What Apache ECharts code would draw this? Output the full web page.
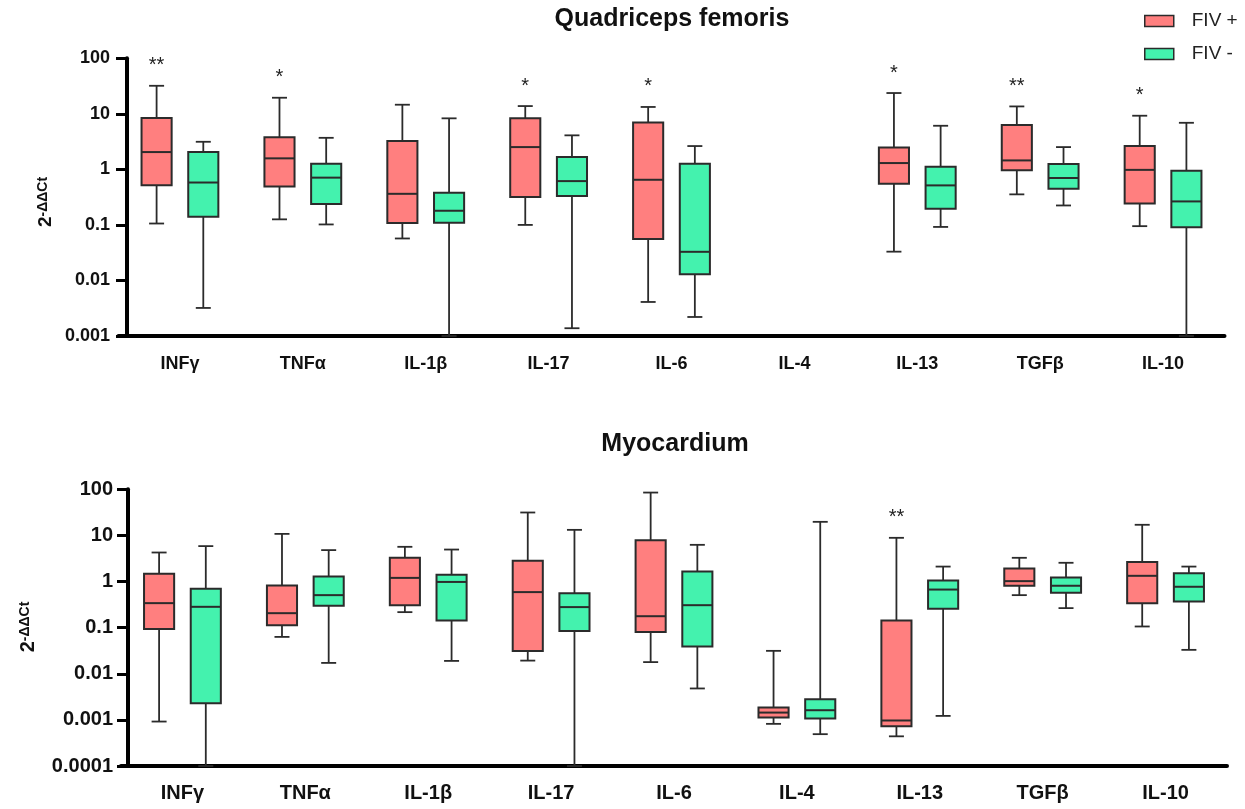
<!DOCTYPE html>
<html>
<head>
<meta charset="utf-8">
<script src="https://cdn.jsdelivr.net/npm/echarts@6/dist/echarts.min.js"></script>
<style>
html, body { margin: 0; padding: 0; background: #fff; }
#chart { width: 1245px; height: 809px; }
</style>
</head>
<body>
<div id="chart"></div>
<script>
// categories on both panels
const cytokines = ['INFγ', 'TNFα', 'IL-1β', 'IL-17', 'IL-6', 'IL-4', 'IL-13', 'TGFβ', 'IL-10']

// [min, Q1, median, Q3, max] (null = no data)
const quadFivPos = [
    [0.106, 0.52, 2.05, 8.4, 32],
    [0.126, 0.49, 1.58, 3.8, 19.5],
    [0.057, 0.108, 0.363, 3.23, 14.6],
    [0.1, 0.317, 2.52, 8.3, 13.8],
    [0.0041, 0.056, 0.65, 7.0, 13.3],
    null,
    [0.033, 0.55, 1.3, 2.49, 23.7],
    [0.355, 0.96, 1.45, 6.3, 13.6],
    [0.095, 0.244, 0.98, 2.63, 9.25],
]
const quadFivNeg = [
    [0.0032, 0.14, 0.58, 2.05, 3.14],
    [0.102, 0.237, 0.71, 1.26, 3.7],
    [0.001, 0.109, 0.18, 0.379, 8.3],
    [0.00138, 0.33, 0.615, 1.67, 4.1],
    [0.0022, 0.013, 0.0328, 1.26, 2.63],
    null,
    [0.092, 0.195, 0.515, 1.11, 6.1],
    [0.224, 0.447, 0.7, 1.25, 2.52],
    [0.001, 0.091, 0.265, 0.94, 6.9],
]
const quadStars = ['**', '*', '', '*', '*', '', '*', '**', '*']

const myoFivPos = [
    [0.00092, 0.093, 0.34, 1.47, 4.26],
    [0.063, 0.113, 0.206, 0.82, 10.8],
    [0.217, 0.307, 1.2, 3.27, 5.66],
    [0.0193, 0.031, 0.59, 2.81, 31.4],
    [0.0179, 0.08, 0.177, 7.9, 85],
    [0.00082, 0.00112, 0.00144, 0.00185, 0.0314],
    [0.00044, 0.00073, 0.00097, 0.143, 8.87],
    [0.507, 0.81, 1.02, 1.92, 3.27],
    [0.106, 0.34, 1.33, 2.64, 17],
]
const myoFivNeg = [
    [0.0001, 0.0023, 0.283, 0.695, 5.86],
    [0.0172, 0.297, 0.507, 1.28, 4.8],
    [0.019, 0.143, 0.98, 1.4, 4.94],
    [0.0001, 0.085, 0.279, 0.56, 13.2],
    [0.0048, 0.039, 0.307, 1.65, 6.25],
    [0.00049, 0.00107, 0.00162, 0.0028, 19.7],
    [0.00122, 0.256, 0.67, 1.05, 2.11],
    [0.265, 0.57, 0.81, 1.22, 2.55],
    [0.033, 0.368, 0.77, 1.52, 2.11],
]
const myoStars = ['', '', '', '', '', '', '**', '', '']

const quadTicks = ['0.001', '0.01', '0.1', '1', '10', '100']
const myoTicks = ['0.0001', '0.001', '0.01', '0.1', '1', '10', '100']

const FONT = 'Liberation Sans, Arial, sans-serif'
const INK = '#2b2b2b'
const colors = { pos: '#ff7f7f', neg: '#44f2ae' }

function toItems(list) {
    const out = []
    list.forEach((d, i) => {
        if (d) out.push([i].concat(d))
    })
    return out
}

function tickFormatter(ticks) {
    return v => ticks.find(t => Math.abs(Math.log10(Number(t)) - Math.log10(v)) < 1e-6) || ''
}

// draws one box: whiskers, caps, box, median, optional significance mark
function boxRenderer(shift, stars) {
    return function (params, api) {
        const i = api.value(0)
        const band = api.size([0, 0], [i, 1])[0]
        const cx = api.coord([i, 1])[0] + shift * band
        const y = [1, 2, 3, 4, 5].map(k => api.coord([i, api.value(k)])[1])
        const bw = band * 0.245
        const cap = band * 0.122
        const ln = { stroke: INK, lineWidth: 1.8 }
        const children = [
            { type: 'line', shape: { x1: cx, y1: y[4], x2: cx, y2: y[3] }, style: ln },
            { type: 'line', shape: { x1: cx, y1: y[1], x2: cx, y2: y[0] }, style: ln },
            { type: 'line', shape: { x1: cx - cap / 2, y1: y[4], x2: cx + cap / 2, y2: y[4] }, style: ln },
            { type: 'line', shape: { x1: cx - cap / 2, y1: y[0], x2: cx + cap / 2, y2: y[0] }, style: ln },
            {
                type: 'rect',
                shape: { x: cx - bw / 2, y: y[3], width: bw, height: y[1] - y[3] },
                style: { fill: api.visual('color'), stroke: INK, lineWidth: 2 }
            },
            { type: 'line', shape: { x1: cx - bw / 2, y1: y[2], x2: cx + bw / 2, y2: y[2] }, style: { stroke: INK, lineWidth: 2 } },
        ]
        if (stars && stars[i]) {
            children.push({
                type: 'text',
                x: cx,
                y: y[4] - 20,
                style: {
                    text: stars[i], fontSize: 20, fontFamily: FONT, fill: '#222',
                    align: 'center', verticalAlign: 'middle'
                }
            })
        }
        return { type: 'group', children }
    }
}

function xAxisFor(gridIndex, fontSize, margin) {
    return {
        type: 'category',
        gridIndex,
        data: cytokines,
        axisLine: { onZero: false, lineStyle: { color: '#000', width: 4 } },
        axisTick: { alignWithLabel: true, length: 9, lineStyle: { color: '#000', width: 4 } },
        axisLabel: { margin, color: '#111', fontSize, fontWeight: 'bold', fontFamily: FONT },
        splitLine: { show: false },
    }
}

function yAxisFor(gridIndex, ticks, offset, fontSize, margin) {
    return {
        type: 'log',
        logBase: 10,
        gridIndex,
        offset,
        min: Number(ticks[0]),
        max: Number(ticks[ticks.length - 1]),
        axisLine: { show: true, onZero: false, lineStyle: { color: '#000', width: 4 } },
        axisTick: { show: true, length: 11, lineStyle: { color: '#000', width: 3 } },
        minorTick: { show: false },
        axisLabel: { margin, color: '#111', fontSize, fontWeight: 'bold', fontFamily: FONT, formatter: tickFormatter(ticks) },
        splitLine: { show: false },
    }
}

function yTitle(x, y, size) {
    return {
        type: 'text',
        x, y,
        rotation: Math.PI / 2,
        style: {
            text: '{b|2}{s|-ΔΔCt}',
            align: 'center',
            verticalAlign: 'middle',
            fill: '#111',
            rich: {
                b: { fontSize: size, fontWeight: 'bold', fontFamily: FONT, fill: '#111' },
                s: { fontSize: Math.round(size * 0.72), fontWeight: 'bold', fontFamily: FONT, fill: '#111', verticalAlign: 'top' },
            }
        }
    }
}

function panelTitle(text, x, y) {
    return {
        type: 'text',
        x, y,
        style: {
            text, fontSize: 25, fontWeight: 'bold', fontFamily: FONT, fill: '#111',
            align: 'center', verticalAlign: 'middle'
        }
    }
}

const chart = echarts.init(document.getElementById('chart'))

chart.setOption({
    backgroundColor: '#fff',
    animation: false,
    legend: {
        orient: 'vertical',
        left: 1144,
        top: 11,
        padding: 0,
        itemWidth: 29,
        itemHeight: 11,
        itemGap: 13,
        icon: 'rect',
        itemStyle: { borderColor: INK, borderWidth: 1.5 },
        textStyle: { fontSize: 19, lineHeight: 20, color: '#222', fontFamily: FONT, padding: [0, 0, 0, 13] },
        data: ['FIV +', 'FIV -'],
    },
    grid: [
        { left: 118.5, width: 1106, top: 58.3, height: 277.7 },
        { left: 121, width: 1106, top: 489.3, height: 276.7 },
    ],
    xAxis: [xAxisFor(0, 18, 19), xAxisFor(1, 20, 17)],
    yAxis: [yAxisFor(0, quadTicks, -8.5, 18, 17), yAxisFor(1, myoTicks, -7, 20, 15)],
    graphic: [
        panelTitle('Quadriceps femoris', 672, 19),
        panelTitle('Myocardium', 675, 444),
        yTitle(46, 202, 19),
        yTitle(28, 627, 20),
    ],
    series: [
        {
            name: 'FIV +', type: 'custom', xAxisIndex: 0, yAxisIndex: 0,
            itemStyle: { color: colors.pos },
            renderItem: boxRenderer(-0.19, quadStars),
            encode: { x: 0, y: [1, 2, 3, 4, 5] },
            data: toItems(quadFivPos),
        },
        {
            name: 'FIV -', type: 'custom', xAxisIndex: 0, yAxisIndex: 0,
            itemStyle: { color: colors.neg },
            renderItem: boxRenderer(0.19),
            encode: { x: 0, y: [1, 2, 3, 4, 5] },
            data: toItems(quadFivNeg),
        },
        {
            name: 'FIV +', type: 'custom', xAxisIndex: 1, yAxisIndex: 1,
            itemStyle: { color: colors.pos },
            renderItem: boxRenderer(-0.19, myoStars),
            encode: { x: 0, y: [1, 2, 3, 4, 5] },
            data: toItems(myoFivPos),
        },
        {
            name: 'FIV -', type: 'custom', xAxisIndex: 1, yAxisIndex: 1,
            itemStyle: { color: colors.neg },
            renderItem: boxRenderer(0.19),
            encode: { x: 0, y: [1, 2, 3, 4, 5] },
            data: toItems(myoFivNeg),
        },
    ],
})
</script>
</body>
</html>
